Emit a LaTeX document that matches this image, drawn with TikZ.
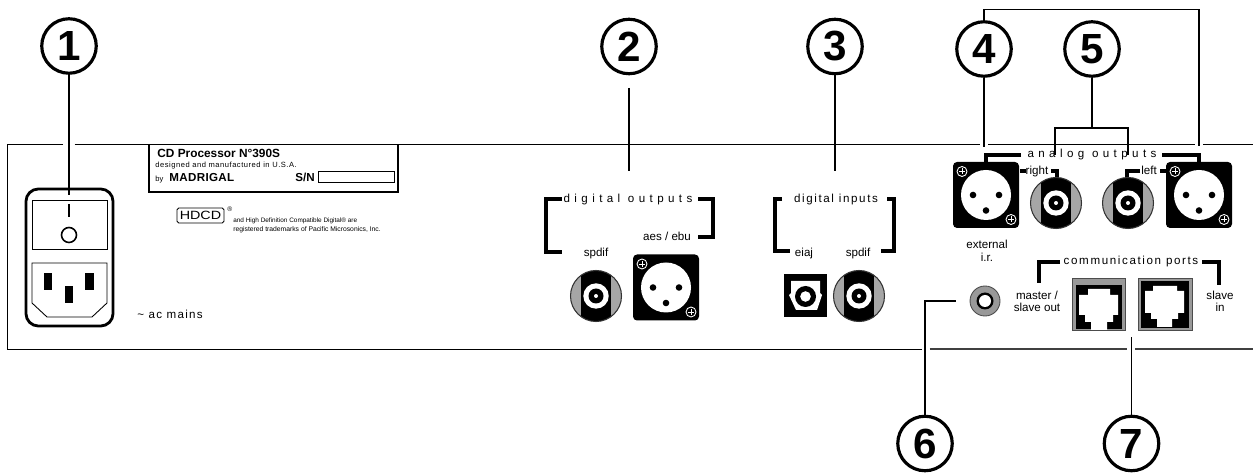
\documentclass[tikz,border=0pt]{standalone}
\usepackage{fontspec}
\setmainfont{Liberation Sans}
\newfontfamily\wideA[LetterSpace=38]{Liberation Sans}
\newfontfamily\wideB[LetterSpace=14]{Liberation Sans}
\newfontfamily\wideC[LetterSpace=11]{Liberation Sans}
\newfontfamily\wideD[LetterSpace=7]{Liberation Sans}
\newfontfamily\wideE[LetterSpace=3]{Liberation Sans}
\newfontfamily\logofont[FakeStretch=1.2]{Liberation Sans}

\tikzset{
  numcircle/.style={shape=circle,draw=black,line width=1.8pt,minimum size=1.09cm,inner sep=0pt,font=\fontsize{24}{24}\selectfont\bfseries},
  leader/.style={line width=0.9pt},
  bracket/.style={line width=1.8pt},
  panel/.style={line width=0.6pt,draw=black!75},
  lbl/.style={anchor=base,inner sep=0pt,font=\fontsize{6.6}{6.6}\selectfont},
  lines/.style={inner sep=0pt,align=center,font=\fontsize{6.6}{6.5}\selectfont},
  tiny text/.style={anchor=base west,inner sep=0pt,font=\fontsize{3.8}{3.8}\selectfont},
  xlrjack/.pic={
    \fill[rounded corners=2.3pt] (-33,-33) rectangle (33,33);
    \fill[white] (0,0) circle (25);
    \foreach \x/\y in {-13/0,13/0,0/15.5} \fill (\x,\y) circle (3.3);
    \foreach \x/\y in {-24/-23.5,25/24.5} {
      \draw[white,fill=black,line width=0.5pt] (\x,\y) circle (5);
      \draw[white,line width=0.4pt] (\x-3,\y) -- (\x+3,\y) (\x,\y-3) -- (\x,\y+3);
    }
  },
  rcajack/.pic={
    \fill[black!35] (0,0) circle (25.5);
    \begin{scope}
      \clip (0,0) circle (25.5);
      \fill (-15,-26) rectangle (15,26);
    \end{scope}
    \draw[line width=0.6pt,black!80] (0,0) circle (25.5);
    \fill[white] (0,0) circle (12.7);
    \fill (0,0) circle (7.5);
    \fill[white] (0,0) circle (2);
  }
}

\begin{document}
\begin{tikzpicture}[x=0.02cm,y=-0.02cm]
\useasboundingbox (0,0) rectangle (1253,475);

% numbered circles
\node[numcircle](numA) at (69,46) {1};
\node[numcircle](numB) at (629,46.5) {2};
\node[numcircle](numC) at (835,46.5) {3};
\node[numcircle](numD) at (984,49) {4};
\node[numcircle](numE) at (1092,49) {5};
\node[numcircle](numF) at (925,443.5) {6};
\node[numcircle](numG) at (1131.5,443.5) {7};

% leader ends
\coordinate (tipA) at (69,195);
\coordinate (startB) at (629,88);
\coordinate (tipB) at (629,171);
\coordinate (tipC) at (835,171);
\coordinate (tipD) at (984,147);
\coordinate (overD) at (984,9.5);
\coordinate (overR) at (1199,9.5);
\coordinate (tipR) at (1199,146);
\coordinate (teeE) at (1092,128);
\coordinate (cornL) at (1055,128);
\coordinate (tipL) at (1055,155);
\coordinate (cornM) at (1128,128);
\coordinate (tipM) at (1128,155);
\coordinate (cornF) at (925,301);
\coordinate (tipF) at (956,301);
\coordinate (tipG) at (1131.5,337);

\path [leader,draw] (numA) -- (tipA);
\path [leader,draw] (startB) -- (tipB);
\path [leader,draw] (numC) -- (tipC);
\path [leader,draw] (numD) -- (tipD);
\path [leader,draw] (numD) -- (overD) -- (overR) -- (tipR);
\path [leader,draw] (numE) -- (teeE);
\path [leader,draw] (tipL) -- (cornL) -- (cornM) -- (tipM);
\path [leader,draw] (numF) -- (cornF) -- (tipF);
\path [leader,draw] (numG) -- (tipG);

% chassis
\draw[line width=0.55pt] (63,144) -- (7.5,144) -- (7.5,349) -- (921.5,349);
\draw[line width=0.55pt] (74.5,144) -- (980,144);
\draw[line width=0.55pt] (988,144) -- (1195,144);
\draw[line width=0.55pt] (1203,144) -- (1253,144);
\draw[panel] (929.5,349) -- (1127,349);
\draw[panel] (1135,349) -- (1253,349);

% plate
\draw[line width=0.7pt] (149,144) -- (149,192) -- (398,192) -- (398,144);
\draw[line width=0.4pt] (318,171) rectangle (394,182);
\node[anchor=base west,inner sep=0pt,font=\fontsize{6.75}{6.75}\selectfont\bfseries](plateA) at (157,158) {CD Processor N°390S};
\node[anchor=base west,inner sep=0pt,font=\fontsize{4.3}{4.3}\selectfont\wideD](plateB) at (155,167.5) {designed and manufactured in U.S.A.};
\node[anchor=base west,inner sep=0pt,font=\fontsize{4.3}{4.3}\selectfont](plateC) at (155,182) {by};
\node[anchor=base west,inner sep=0pt,font=\fontsize{6.6}{6.6}\selectfont\bfseries\wideE](plateD) at (169,182) {MADRIGAL};
\node[anchor=base west,inner sep=0pt,font=\fontsize{6.6}{6.6}\selectfont\bfseries](plateE) at (295,182) {S/N};

% hdcd
\node[draw=black,line width=0.5pt,rounded corners=1pt,minimum width=0.94cm,minimum height=0.3cm,inner sep=0pt,font=\fontsize{6.8}{6.8}\selectfont\logofont](hdcd) at (200.5,215.5) {HDCD};
\node[tiny text](regmark) at (227,212) {®};
\node[tiny text,font=\fontsize{3.65}{3.65}\selectfont](hdcdA) at (233,223) {and High Definition Compatible Digital® are};
\node[tiny text,font=\fontsize{3.85}{3.85}\selectfont](hdcdB) at (233,232) {registered trademarks of Pacific Microsonics, Inc.};

% power inlet
\draw[line width=1.6pt,rounded corners=7pt] (26,189) rectangle (113,326);
\draw[line width=0.5pt] (32,200) rectangle (107,249);
\draw[line width=0.9pt] (69,204) -- (69,217);
\draw[line width=0.9pt] (69,235) circle (7.5);
\draw[line width=0.5pt] (32,263) -- (107,263) -- (107,303) -- (92,317) -- (47,317) -- (32,303) -- cycle;
\fill (43.5,273) rectangle (52,290);
\fill (85,273) rectangle (94,290);
\fill (64.5,286) rectangle (73,303);
\node[lbl,anchor=base west,font=\fontsize{6.6}{6.6}\selectfont\wideC](mains) at (137,319) {\char"007E{} ac mains};

% digital outputs
\node[lbl,font=\fontsize{6.6}{6.6}\selectfont\wideA](lblDigOut) at (628,203) {digital outputs};
\node[lbl](lblAes) at (667,241) {aes / ebu};
\node[lbl](lblSpdifA) at (596,257) {spdif};
\draw[bracket] (562,199) -- (546,199) -- (546,252) -- (562,252);
\draw[bracket] (698,199) -- (713,199) -- (713,237) -- (698,237);
\pic at (596,296) {rcajack};
\pic at (666,287.5) {xlrjack};

% digital inputs
\node[lbl,font=\fontsize{6.6}{6.6}\selectfont\wideB](lblDigIn) at (836,203) {digital inputs};
\node[lbl](lblEiaj) at (804,257) {eiaj};
\node[lbl](lblSpdifB) at (858,257) {spdif};
\draw[bracket] (782,199) -- (775,199) -- (775,251) -- (790,251);
\draw[bracket] (887,199) -- (894,199) -- (894,251) -- (881,251);
\fill (784,274.5) rectangle (827,317);
\fill[white] (791,281) -- (820,281) -- (820,293) -- (822,295) -- (817,310) -- (796,310) -- (789,295) -- (791,293) -- cycle;
\fill (805.5,296.5) circle (10.5);
\fill[white] (805.5,296.5) circle (5.3);
\pic at (859,296) {rcajack};

% analog outputs
\node[lbl,font=\fontsize{6.6}{6.6}\selectfont\wideA](lblAnalog) at (1092,158) {analog outputs};
\node[lbl](lblRight) at (1037,175) {right};
\node[lbl](lblLeft) at (1149,175) {left};
\draw[bracket] (1021,155) -- (986,155) -- (986,162);
\draw[bracket] (1162,155) -- (1199,155) -- (1199,162);
\draw[bracket] (1020,171) -- (1026,171);
\draw[bracket] (1051,171) -- (1057,171) -- (1057,178);
\draw[bracket] (1140,171) -- (1127,171) -- (1127,178);
\draw[bracket] (1160,171) -- (1166,171);
\pic at (986,195) {xlrjack};
\pic at (1199,195) {xlrjack};
\pic at (1056,203) {rcajack};
\pic at (1128,203) {rcajack};

% external i.r.
\node[lines](lblExt) at (987,250.5) {external\\[1pt]i.r.};
\fill[black!40] (985,301) circle (15);
\draw[line width=0.5pt,black!70] (985,301) circle (15);
\fill (985,301) circle (8.5);
\fill[white] (985,301) circle (6);

% communication ports
\node[lbl,font=\fontsize{6.6}{6.6}\selectfont\wideB](lblComm) at (1131,265) {communication ports};
\node[lines](lblMaster) at (1037,301.5) {master /\\slave out};
\node[lines](lblSlave) at (1220,301.5) {slave\\in};
\draw[bracket] (1060,262) -- (1039,262) -- (1039,283);
\draw[bracket] (1202,262) -- (1219,262) -- (1219,285);

\filldraw[fill=black!40,draw=black!70,line width=0.5pt] (1072,278) rectangle (1125,330);
\fill (1076,285) rectangle (1122,329);
\fill[white] (1088,289) -- (1110,289) -- (1110,295) -- (1118,295) -- (1118,315) -- (1113,315) -- (1113,322) -- (1107,322) -- (1107,330) -- (1091,330) -- (1091,322) -- (1085,322) -- (1085,315) -- (1079,315) -- (1079,295) -- (1088,295) -- cycle;

\filldraw[fill=black!40,draw=black!70,line width=0.5pt] (1138,278) rectangle (1192,330);
\fill (1141,281) rectangle (1189,328);
\fill[white] (1153,286) -- (1177,286) -- (1177,291) -- (1184,291) -- (1184,313) -- (1178,313) -- (1178,319) -- (1172,319) -- (1172,327) -- (1157,327) -- (1157,319) -- (1151,319) -- (1151,313) -- (1145,313) -- (1145,291) -- (1153,291) -- cycle;
\end{tikzpicture}
\end{document}
